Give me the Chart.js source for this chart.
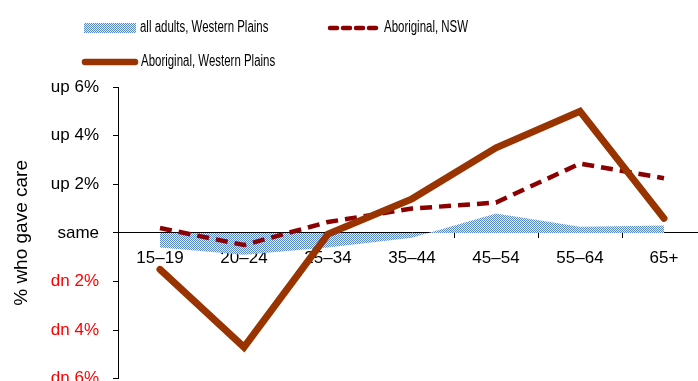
<!DOCTYPE html>
<html>
<head>
<meta charset="utf-8">
<script src="https://cdn.jsdelivr.net/npm/chart.js@4.4.1/dist/chart.umd.min.js"></script>
<style>
  html, body { margin: 0; padding: 0; background: #fff; overflow: hidden; }
  #wrap { position: relative; width: 712px; height: 403px; }
</style>
</head>
<body>
<div id="wrap"><canvas id="chart"></canvas></div>
<script>
// age groups
const categories = ['15–19', '20–24', '25–34', '35–44', '45–54', '55–64', '65+'];
// difference from the comparison, percentage points
const allAdultsWP = [-0.6, -0.9, -0.6, -0.2, 0.8, 0.25, 0.3];
const aboriginalNSW = [0.2, -0.5, 0.45, 1.0, 1.25, 2.85, 2.25];
const aboriginalWP = [-1.5, -4.7, -0.05, 1.4, 3.5, 5.0, 0.6];
const yTicks = [-6, -4, -2, 0, 2, 4, 6];

const arial = '"Liberation Sans", Arial, sans-serif';

// checkered blue fill like the original
function makePattern() {
    const c = document.createElement('canvas');
    c.width = 2; c.height = 2;
    const g = c.getContext('2d');
    g.fillStyle = '#e4ecf8';
    g.fillRect(0, 0, 2, 2);
    g.fillStyle = '#5a88d0';
    g.fillRect(0, 0, 1, 1);
    g.fillRect(1, 1, 1, 1);
    return g.createPattern(c, 'repeat');
}
const pattern = makePattern();

function tickLabel(v) {
    if (v > 0) return 'up ' + v + '%';
    if (v < 0) return 'dn ' + (-v) + '%';
    return 'same';
}

// narrow legend text (original uses a condensed face)
function narrowText(ctx, text, x, y) {
    ctx.save();
    ctx.translate(x, y);
    ctx.scale(0.716, 1);
    ctx.fillText(text, 0, 0);
    ctx.restore();
}

// legend drawn by hand at the top
const legendPlugin = {
    id: 'topLegend',
    afterDraw(chart) {
        const ctx = chart.ctx;
        ctx.save();
        ctx.font = '16px ' + arial;
        ctx.textBaseline = 'middle';

        ctx.fillStyle = pattern;
        ctx.fillRect(84, 23, 52, 10);
        ctx.fillStyle = '#000';
        narrowText(ctx, 'all adults, Western Plains', 140, 28);

        ctx.strokeStyle = '#8b0000';
        ctx.lineWidth = 4.5;
        ctx.lineCap = 'round';
        ctx.setLineDash([7, 6]);
        ctx.beginPath();
        ctx.moveTo(330, 28);
        ctx.lineTo(380, 28);
        ctx.stroke();
        ctx.setLineDash([]);
        narrowText(ctx, 'Aboriginal, NSW', 384, 28);

        ctx.strokeStyle = '#993300';
        ctx.lineWidth = 6.5;
        ctx.beginPath();
        ctx.moveTo(85, 62);
        ctx.lineTo(135, 62);
        ctx.stroke();
        narrowText(ctx, 'Aboriginal, Western Plains', 141, 62);
        ctx.restore();
    }
};

new Chart(document.getElementById('chart'), {
    type: 'line',
    data: {
        labels: categories,
        datasets: [
            {
                label: 'all adults, Western Plains',
                data: allAdultsWP,
                backgroundColor: pattern,
                borderWidth: 0,
                pointRadius: 0,
                fill: 'origin',
                order: 3
            },
            {
                label: 'Aboriginal, NSW',
                data: aboriginalNSW,
                borderColor: '#8b0000',
                borderWidth: 4.5,
                borderDash: [12, 7],
                pointRadius: 0,
                fill: false,
                order: 2
            },
            {
                label: 'Aboriginal, Western Plains',
                data: aboriginalWP,
                borderColor: '#993300',
                borderWidth: 7,
                borderCapStyle: 'round',
                pointRadius: 0,
                fill: false,
                order: 1
            }
        ]
    },
    options: {
        responsive: true,
        maintainAspectRatio: false,
        animation: false,
        layout: { padding: { top: 87, right: 6, bottom: 0, left: 0 } },
        plugins: { legend: { display: false }, tooltip: { enabled: false } },
        scales: {
            x: {
                position: { y: 0 },
                offset: true,
                afterFit(scale) { scale.height = 0; },
                border: { color: '#000', width: 1 },
                grid: { drawOnChartArea: false, offset: true, tickLength: 5, color: '#000' },
                ticks: { color: '#000', font: { family: arial, size: 17 }, padding: 10, maxRotation: 0 }
            },
            y: {
                min: -6,
                max: 6,
                afterFit(scale) { scale.width = 118; },
                afterBuildTicks(scale) { scale.ticks = yTicks.map(v => ({ value: v })); },
                border: { color: '#000', width: 1 },
                grid: { drawOnChartArea: false, tickLength: 5, color: '#000' },
                ticks: {
                    padding: 14,
                    font: { family: arial, size: 17 },
                    color: ctx => ctx.tick.value < 0 ? '#ff0000' : '#000',
                    callback: v => tickLabel(v)
                },
                title: {
                    display: true,
                    text: '% who gave care',
                    color: '#000',
                    font: { family: arial, size: 19 },
                    padding: { top: 10 }
                }
            }
        }
    },
    plugins: [legendPlugin]
});
</script>
</body>
</html>
